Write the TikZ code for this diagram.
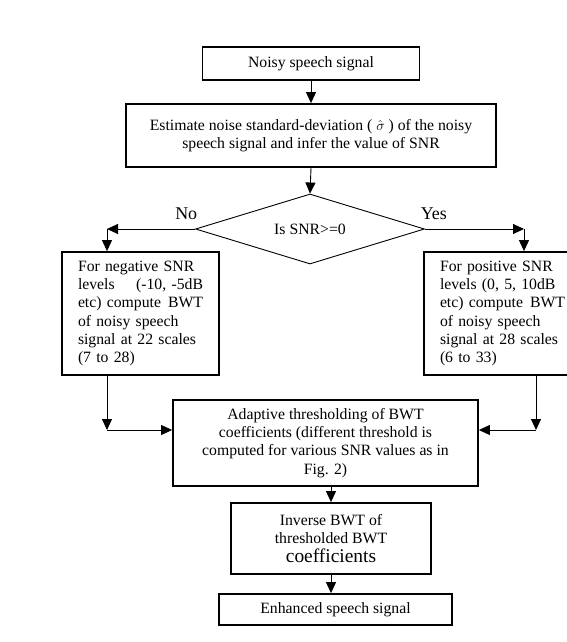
\documentclass[tikz,border=0pt]{standalone}
\usepackage{fontspec}
\setmainfont{Liberation Serif}
\usetikzlibrary{arrows.meta,shapes.geometric}

\begin{document}
\begin{tikzpicture}[x=1bp, y=-1bp]
% Flow chart: SNR dependent BWT enhancement of noisy speech
\providecommand{\flowBoxLineWidth}{1.8bp}
\providecommand{\flowArrowLineWidth}{0.9bp}
\providecommand{\flowTextSize}{\fontsize{15.8}{18.3}\selectfont}
\providecommand{\flowLabelSize}{\fontsize{18}{20}\selectfont}
\tikzset{
  flowbox/.style={draw, line width=\flowBoxLineWidth, inner sep=0pt, align=center, font=\flowTextSize},
  sidebox/.style={flowbox, align=left, text width=125bp, minimum width=157bp, minimum height=123bp},
  decision/.style={diamond, aspect=3.2, draw, line width=\flowArrowLineWidth, inner sep=0pt, font=\flowTextSize},
  flowarrow/.style={line width=\flowArrowLineWidth, -{Triangle[length=11bp,width=10bp]}},
  branchlabel/.style={font=\flowLabelSize, inner sep=0pt}
}
% Page frame
\useasboundingbox (0,0) rectangle (567,642);
\clip (0,0) rectangle (567,642);
% Main column
\node[flowbox, minimum width=217bp, minimum height=33bp] (noisy) at (311,63.5) {Noisy speech signal};
\node[flowbox, minimum width=370bp, minimum height=63bp] (estimate) at (311,135.5)
  {Estimate noise standard-deviation ( $\hat{\sigma}$ ) of the noisy\\ speech signal and infer the value of SNR};
\node[decision, minimum width=229bp, minimum height=70bp] (snrtest) at (310,229) {Is SNR>=0};
% Branches
\node[sidebox] (negsnr) at (140.5,313.5)
  {For negative SNR\\ levels \hfill (-10, -5dB\\ etc) compute \hfill BWT\\ of noisy speech\\ signal at 22 scales\\ (7 to 28)};
\node[sidebox] (possnr) at (502.5,313.5)
  {For positive SNR\\ levels (0, 5, 10dB\\ etc) compute \hfill BWT\\ of noisy speech\\ signal at 28 scales\\ (6 to 33)};
% Lower column
\node[flowbox, minimum width=305bp, minimum height=86bp] (adaptive) at (325.5,443)
  {Adaptive thresholding of BWT\\ coefficients (different threshold is\\ computed for various SNR values as in\\ Fig. 2)};
\node[flowbox, minimum width=200bp, minimum height=71bp] (inverse) at (331,538.5)
  {Inverse BWT of\\ thresholded BWT\\ {\fontsize{19.5}{20}\selectfont coefficients}};
\node[flowbox, minimum width=233bp, minimum height=31bp] (enhanced) at (335.5,609.5) {Enhanced speech signal};
% Corners of the elbow connectors
\coordinate (nocorner) at (107,229);
\coordinate (yescorner) at (524,229);
\coordinate (negjoin) at (107,430);
\coordinate (posjoin) at (536,430);
% Connectors
\draw[flowarrow] (noisy.south) -- (estimate.north);
\draw[flowarrow] (estimate.south) -- (snrtest.north);
\draw[flowarrow] (snrtest.west) -- node[branchlabel, pos=0.1, above=9bp] {No} (nocorner);
\draw[flowarrow] (nocorner) -- (nocorner |- negsnr.north);
\draw[flowarrow] (snrtest.east) -- node[branchlabel, pos=0.09, above=9bp] {Yes} (yescorner);
\draw[flowarrow] (yescorner) -- (yescorner |- possnr.north);
\draw[flowarrow] (negjoin |- negsnr.south) -- (negjoin);
\draw[flowarrow] (negjoin) -- (negjoin -| adaptive.west);
\draw[flowarrow] (posjoin |- possnr.south) -- (posjoin);
\draw[flowarrow] (posjoin) -- (posjoin -| adaptive.east);
\draw[flowarrow] (inverse.north |- adaptive.south) -- (inverse.north);
\draw[flowarrow] (inverse.south) -- (inverse.south |- enhanced.north);
\end{tikzpicture}
\end{document}
